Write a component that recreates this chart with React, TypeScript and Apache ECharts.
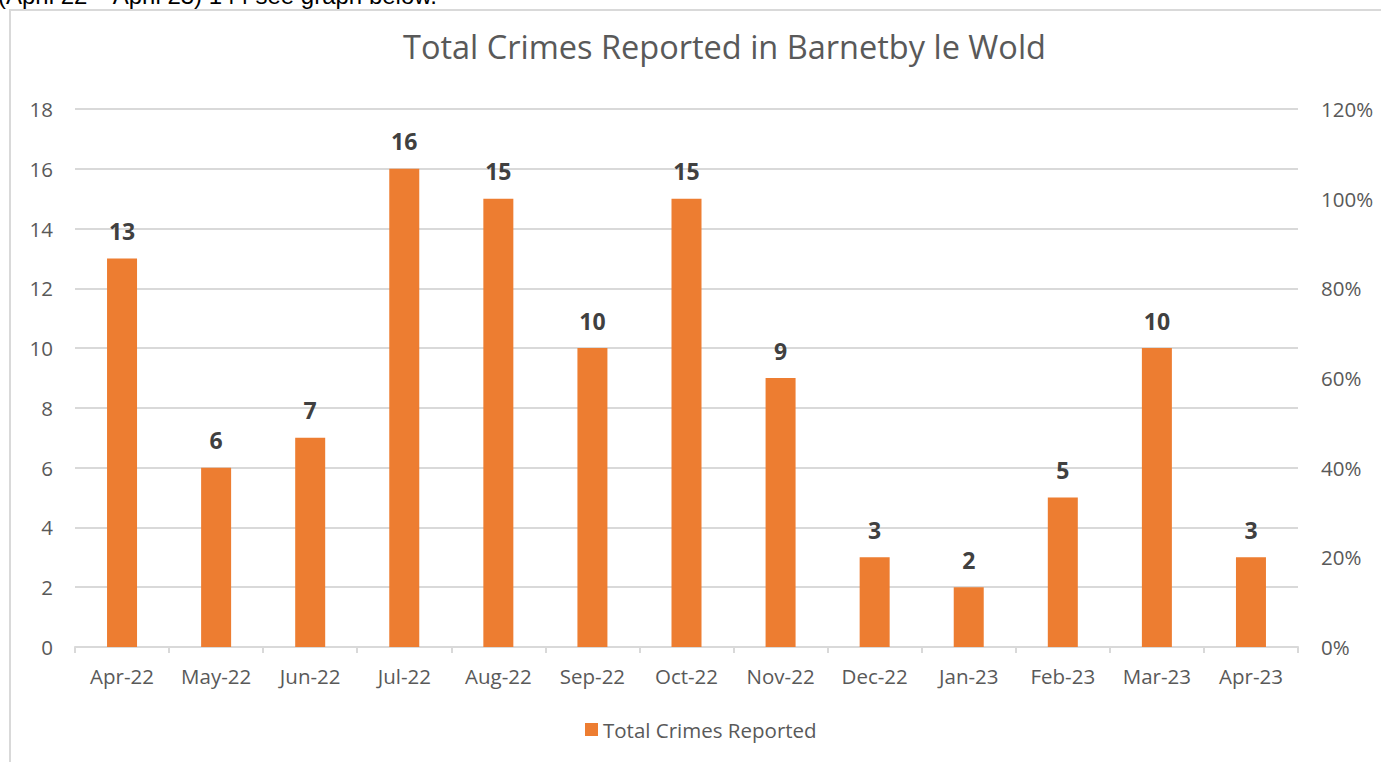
import React, { useEffect, useRef } from "react";
import * as echarts from "echarts";

const categories = ["Apr-22", "May-22", "Jun-22", "Jul-22", "Aug-22", "Sep-22", "Oct-22", "Nov-22", "Dec-22", "Jan-23", "Feb-23", "Mar-23", "Apr-23"];
const crimes = [13, 6, 7, 16, 15, 10, 15, 9, 3, 2, 5, 10, 3];
const seriesName = "Total Crimes Reported";
const titleText = "Total Crimes Reported in Barnetby le Wold";
const headerText = "(April 22 – April 23) 144 see graph below.";

const FONT = "'Open Sans', 'Noto Sans', sans-serif";
const GREY = "#595959";

export default function App() {
  const ref = useRef<HTMLDivElement>(null);
  useEffect(() => {
    if (!ref.current) return;
    const chart = echarts.init(ref.current, null, { renderer: "svg" });
    chart.setOption({
      animation: false,
      backgroundColor: "#ffffff",
      textStyle: { fontFamily: FONT },
      title: {
        text: titleText,
        left: 403,
        top: 30,
        padding: 0,
        textStyle: { fontFamily: FONT, fontSize: 32.5, fontWeight: "normal", color: GREY },
      },
      legend: {
        bottom: 17,
        left: 580,
        itemWidth: 13,
        itemHeight: 13,
        itemGap: 6,
        icon: "rect",
        textStyle: { fontFamily: FONT, fontSize: 20.5, color: GREY },
        data: [seriesName],
      },
      grid: { left: 75, right: 83, top: 109, bottom: 115, containLabel: false },
      graphic: [
        {
          type: "rect",
          shape: { x: 10, y: 10, width: 1500, height: 900 },
          style: { fill: "none", stroke: "#d9d9d9", lineWidth: 2 },
          silent: true,
        },
        {
          type: "text",
          x: -2,
          y: 7,
          style: {
            text: headerText,
            font: "24px 'Liberation Sans', Arial, sans-serif",
            fill: "#000000",
            textVerticalAlign: "bottom",
          },
          silent: true,
        },
      ],
      xAxis: {
        type: "category",
        data: categories,
        axisLine: { lineStyle: { color: "#d9d9d9", width: 2 } },
        axisTick: { show: true, alignWithLabel: false, length: 6, lineStyle: { color: "#d9d9d9", width: 2 } },
        axisLabel: { color: GREY, fontSize: 20.5, fontFamily: FONT, margin: 18 },
      },
      yAxis: [
        {
          type: "value",
          min: 0,
          max: 18,
          interval: 2,
          axisLine: { show: false },
          axisTick: { show: false },
          axisLabel: { color: GREY, fontSize: 20.5, fontFamily: FONT, margin: 22 },
          splitLine: { lineStyle: { color: "#d9d9d9", width: 2 } },
        },
        {
          type: "value",
          min: 0,
          max: 1.2,
          interval: 0.2,
          position: "right",
          axisLine: { show: false },
          axisTick: { show: false },
          splitLine: { show: false },
          axisLabel: {
            color: GREY,
            fontSize: 20.5,
            fontFamily: FONT,
            margin: 23,
            formatter: (v: number) => Math.round(v * 100) + "%",
          },
        },
      ],
      series: [
        {
          name: seriesName,
          type: "bar",
          data: crimes,
          barWidth: 30,
          itemStyle: { color: "#ED7D31" },
          label: {
            show: true,
            position: "top",
            distance: 16,
            color: "#404040",
            fontSize: 23,
            fontWeight: "bold",
            fontFamily: FONT,
          },
        },
      ],
    });
    return () => chart.dispose();
  }, []);
  return (
    <div
      ref={ref}
      style={{ position: "absolute", left: 0, top: 0, width: 1381, height: 762 }}
    />
  );
}
